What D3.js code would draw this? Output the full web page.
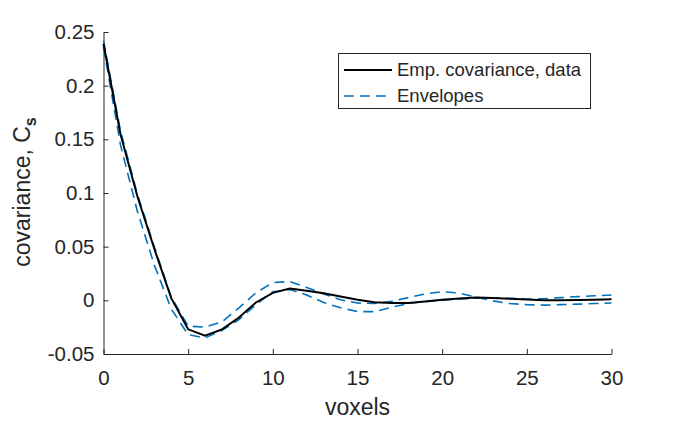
<!DOCTYPE html>
<html>
<head>
<meta charset="utf-8">
<script src="https://cdn.jsdelivr.net/npm/d3@7"></script>
<style>
  body { margin: 0; background: #fff; }
  svg { display: block; }
  text { font-family: "Liberation Sans", Arial, Helvetica, sans-serif; fill: #262626; }
</style>
</head>
<body>
<svg id="chart" width="675" height="421"></svg>
<script>
// lag in voxels
const lags = d3.range(0, 31);

// empirical covariance of the data
const empCov = [0.239, 0.155, 0.097, 0.048, 0.002, -0.027, -0.033, -0.027, -0.016, -0.002,
  0.007, 0.011, 0.009, 0.0065, 0.0035, 0.0005, -0.0017, -0.0025, -0.0025, -0.001,
  0.0005, 0.0018, 0.0026, 0.0022, 0.0014, 0.0008, 0.0, 0.0, 0.0003, 0.0006, 0.001];

// simulation envelopes (two dashed curves)
const envA = [0.242, 0.158, 0.099, 0.050, 0.003, -0.024, -0.025, -0.020, -0.007, 0.007,
  0.0165, 0.0175, 0.012, 0.006, 0.0005, -0.0025, -0.003, -0.001, 0.0025, 0.006,
  0.008, 0.0068, 0.003, -0.0005, -0.003, -0.004, -0.0045, -0.004, -0.0035, -0.003, -0.0025];
const envB = [0.236, 0.145, 0.083, 0.033, -0.008, -0.032, -0.035, -0.028, -0.018, -0.004,
  0.008, 0.010, 0.005, -0.002, -0.007, -0.0105, -0.0105, -0.0065, -0.003, -0.001,
  0.0, 0.0012, 0.002, 0.0022, 0.0018, 0.0012, 0.0015, 0.0025, 0.0035, 0.0042, 0.005];

const xTicks = [0, 5, 10, 15, 20, 25, 30];
const yTicks = [-0.05, 0, 0.05, 0.1, 0.15, 0.2, 0.25];
const yTickLabels = ["-0.05", "0", "0.05", "0.1", "0.15", "0.2", "0.25"];

const legendItems = ["Emp. covariance, data", "Envelopes"];

const svg = d3.select("#chart");
const plot = { left: 103.5, right: 611.5, top: 32, bottom: 354 };
const axisColor = "#262626";
const blue = "#0072BD";
const dash = "10,6";

let x = d3.scaleLinear().domain([0, 30]).range([plot.left, plot.right]);
let y = d3.scaleLinear().domain([-0.05, 0.25]).range([plot.bottom, plot.top]);

// axes, ticks pointing inward like matlab
let xAxis = svg.append("g")
  .attr("transform", "translate(0," + plot.bottom + ")")
  .call(d3.axisBottom(x).tickValues(xTicks).tickSizeInner(-5).tickSizeOuter(0).tickPadding(16));

let yAxis = svg.append("g")
  .attr("transform", "translate(" + plot.left + ",0)")
  .call(d3.axisLeft(y).tickValues(yTicks).tickSizeInner(-5).tickSizeOuter(0).tickPadding(9)
    .tickFormat((d, i) => yTickLabels[i]));

[xAxis, yAxis].forEach(g => {
  g.select(".domain").attr("stroke", axisColor).attr("stroke-width", 1);
  g.selectAll(".tick line").attr("stroke", axisColor).attr("stroke-width", 1);
  g.selectAll(".tick text").attr("font-size", 20.5).attr("fill", axisColor)
    .attr("font-family", '"Liberation Sans", Arial, sans-serif');
});

// axis labels
svg.append("text")
  .attr("x", (plot.left + plot.right) / 2)
  .attr("y", 415)
  .attr("text-anchor", "middle")
  .attr("font-size", 23)
  .text("voxels");

let yl = svg.append("text")
  .attr("transform", "translate(30," + 192 + ") rotate(-90)")
  .attr("text-anchor", "middle")
  .attr("font-size", 23);
yl.append("tspan").text("covariance, C");
yl.append("tspan").attr("font-size", 16).attr("font-weight", "bold").attr("dy", 6).text("s");

// curves
let line = d3.line()
  .x((d, i) => x(lags[i]))
  .y(d => y(d));

[envA, envB].forEach(env => {
  svg.append("path").datum(env)
    .attr("d", line).attr("fill", "none")
    .attr("stroke", blue).attr("stroke-width", 1.6).attr("stroke-dasharray", dash);
});

svg.append("path").datum(empCov)
  .attr("d", line).attr("fill", "none")
  .attr("stroke", "#000").attr("stroke-width", 2);

// legend
let legend = svg.append("g");
legend.append("rect")
  .attr("x", 338.5).attr("y", 53.5).attr("width", 252).attr("height", 55)
  .attr("fill", "#fff").attr("stroke", axisColor).attr("stroke-width", 1);

legendItems.forEach((name, i) => {
  let ly = 70 + i * 26;
  legend.append("line")
    .attr("x1", 344).attr("x2", 392).attr("y1", ly).attr("y2", ly)
    .attr("stroke", i === 0 ? "#000" : blue)
    .attr("stroke-width", i === 0 ? 2 : 1.6)
    .attr("stroke-dasharray", i === 0 ? null : dash);
  legend.append("text")
    .attr("x", 397).attr("y", ly).attr("dy", "0.35em")
    .attr("font-size", 18.5)
    .text(name);
});
</script>
</body>
</html>
